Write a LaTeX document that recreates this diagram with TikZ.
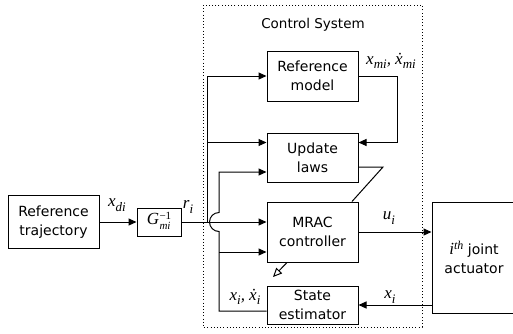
\documentclass[tikz,border=0pt]{standalone}
\usepackage[no-math]{fontspec}
\setmainfont{DejaVu Sans}
\newfontfamily\tms{Liberation Serif}
\usetikzlibrary{arrows.meta}
\newcommand{\vx}{{\tms\itshape x}}
\newcommand{\vdx}{{\tms\itshape \.{x}}}
\newcommand{\sbs}[1]{\raisebox{-4.5pt}{\fontsize{13}{13}\selectfont\tms\itshape #1}}
\begin{document}
\begin{tikzpicture}[x=1pt,y=-1pt,
  blk/.style={draw, line width=1pt, fill=white, align=center, inner sep=0pt,
    font=\fontsize{14}{19}\selectfont},
  conn/.style={line width=1pt},
  arr/.style={conn, -{Triangle[length=8pt,width=7pt]}},
  openarr/.style={conn, -{Triangle[open,length=9pt,width=8pt]}},
  lbl/.style={inner sep=0pt, font=\fontsize{17}{18}\selectfont\tms\itshape}]
\useasboundingbox (0,0) rectangle (513,333);
% control system frame
\draw[line width=1pt, dash pattern=on 1pt off 2.2pt] (203,5) rectangle (422,327);
\node[inner sep=0pt, font=\fontsize{13.5}{16}\selectfont] (title) at (313,25) {Control System};
% blocks
\node[blk, minimum width=91pt, minimum height=53pt] (traj) at (53.5,222) {Reference\\trajectory};
\node[blk, minimum width=44pt, minimum height=28pt, font=\fontsize{17}{18}\selectfont\tms\itshape] (G) at (159,222)
  {G\kern0.5pt{\fontsize{11}{12}\selectfont\begin{tabular}[c]{@{}l@{}}{\upshape −1}\\[-2pt] mi\end{tabular}}};
\node[blk, minimum width=91pt, minimum height=50pt] (refm) at (312.5,76) {Reference\\model};
\node[blk, minimum width=91pt, minimum height=49pt] (upd) at (312.5,157.5) {Update\\laws};
\node[blk, minimum width=91pt, minimum height=60pt] (mrac) at (312.5,232) {MRAC\\controller};
\node[blk, minimum width=91pt, minimum height=38pt] (est) at (312.5,305) {State\\estimator};
\node[blk, minimum width=84pt, minimum height=111pt] (act) at (474,257.5)
  {{\fontsize{17}{18}\selectfont\tms\itshape i\raisebox{5pt}{\fontsize{12}{12}\selectfont th}} joint\\actuator};
% coordinates
\coordinate (j1) at (207,222);
\coordinate (vb) at (219,311);
\coordinate (hb) at (219,231.5);
\coordinate (c1) at (397,76);
\coordinate (d1) at (383,167);
\coordinate (d2) at (273,277);
% connectors
\draw[arr] (traj.east) -- (G.west);
\draw[arr] (G.east) -- ([yshift=10pt]mrac.west);
\draw[arr] (j1) |- (refm.west);
\draw[arr] (j1 |- upd.west) ++(0,-15) -- ([yshift=15pt]upd.west);
\draw[arr] (refm.east) -- (c1) |- ([yshift=15pt]upd.east);
\draw[arr] ([yshift=-6pt]est.west) -| (hb) arc[start angle=270, end angle=90, radius=9.5pt] |- ([yshift=-14.5pt]upd.west);
\draw[arr] (vb |- 0,252) -- ([yshift=-20pt]mrac.west);
\draw[arr] (mrac.east) -- (mrac.east -| act.west);
\draw[arr] (act.west |- est.east) -- (est.east);
\draw[conn] ([yshift=-9.5pt]upd.east) -- (d1) -- ([xshift=39.5pt]mrac.north);
\draw[openarr] ([xshift=-25.5pt]mrac.south) -- (d2);
% labels
\node[lbl] (lxd) at (117,205) {\vx\sbs{di}};
\node[lbl] (lr) at (188,207) {r\sbs{i}};
\node[lbl] (lxm) at (391,61) {\vx\sbs{mi}, \vdx\sbs{mi}};
\node[lbl] (lu) at (389,218) {u\sbs{i}};
\node[lbl] (lxs) at (245,297) {\vx\sbs{i}, \vdx\sbs{i}};
\node[lbl] (lx) at (390,297) {\vx\sbs{i}};
\end{tikzpicture}
\end{document}
